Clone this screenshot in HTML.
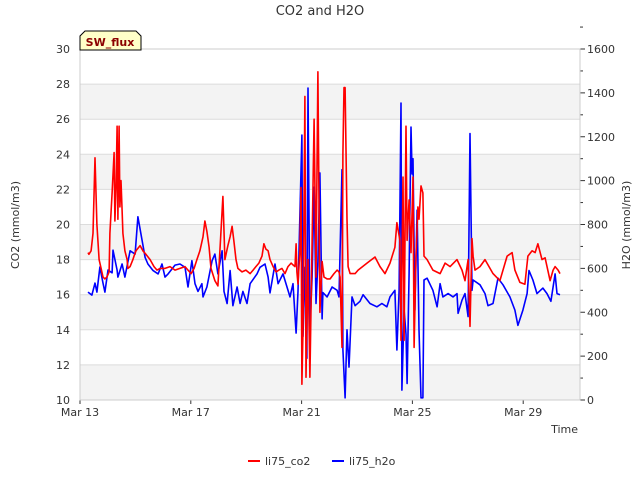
<!DOCTYPE html>
<html><head><meta charset="utf-8"><style>
body{margin:0;background:#fff;font-family:"Liberation Sans","DejaVu Sans",sans-serif}
svg text{font-family:"DejaVu Sans","Liberation Sans",sans-serif}
</style></head><body>
<svg id="chart" width="640" height="480">
<text x="320" y="15" font-size="13" text-anchor="middle" fill="#333">CO2 and H2O</text>
<text transform="translate(19,225) rotate(-90)" font-size="11" text-anchor="middle" fill="#333">CO2 (mmol/m3)</text>
<text transform="translate(630,225) rotate(-90)" font-size="11" text-anchor="middle" fill="#333">H2O (mmol/m3)</text>
<text x="578" y="433" font-size="11" text-anchor="end" fill="#333">Time</text>
<g id="bands"></g><g id="grid"></g><g id="series"></g><g id="axes"></g>
<g>
<path d="M80,50 L80,36 L85,31 L136,31 L141,36 L141,50 Z" fill="#ffffc8" stroke="#000" stroke-width="1"/>
<text x="110" y="46" font-size="11" font-weight="bold" fill="#8b0000" text-anchor="middle">SW_flux</text>
</g>
<g>
<line x1="248" y1="461" x2="260" y2="461" stroke="#f00" stroke-width="2"/>
<text x="265" y="465" font-size="11" fill="#333">li75_co2</text>
<line x1="332" y1="461" x2="344" y2="461" stroke="#00f" stroke-width="2"/>
<text x="349" y="465" font-size="11" fill="#333">li75_h2o</text>
</g>
</svg>
<script>
const xTickLabels=["Mar 13","Mar 17","Mar 21","Mar 25","Mar 29"];
const xTickDays=[0,4,8,12,16];
const leftTicks=[10,12,14,16,18,20,22,24,26,28,30];
const rightTicks=[0,200,400,600,800,1000,1200,1400,1600];
const co2Days=[.29,.32,.40,.47,.54,.61,.69,.76,.83,.90,.97,1.05,1.08,1.16,1.23,1.26,1.30,1.34,1.37,1.41,1.44,1.48,1.52,1.55,1.62,1.70,1.73,1.81,1.91,1.95,2.02,2.17,2.27,2.38,2.53,2.67,2.78,2.89,3.07,3.25,3.43,3.61,3.79,3.90,4.01,4.12,4.22,4.33,4.44,4.51,4.58,4.66,4.73,4.87,4.98,5.05,5.16,5.23,5.34,5.42,5.49,5.56,5.63,5.70,5.85,5.99,6.14,6.25,6.35,6.46,6.57,6.64,6.71,6.79,6.86,6.97,7.08,7.18,7.29,7.40,7.51,7.62,7.69,7.76,7.80,7.83,7.87,7.94,7.98,8.01,8.05,8.12,8.16,8.23,8.30,8.38,8.45,8.52,8.59,8.66,8.74,8.81,8.92,9.03,9.17,9.28,9.35,9.39,9.46,9.49,9.53,9.57,9.64,9.68,9.75,9.93,10.04,10.36,10.65,10.83,11.01,11.19,11.37,11.44,11.55,11.59,11.66,11.70,11.77,11.81,11.88,11.95,12.02,12.06,12.13,12.20,12.24,12.31,12.38,12.42,12.53,12.74,13.00,13.18,13.36,13.61,13.79,13.90,14.01,14.08,14.15,14.19,14.26,14.44,14.62,14.91,15.16,15.42,15.60,15.70,15.88,16.06,16.17,16.32,16.43,16.53,16.68,16.79,16.97,17.08,17.15,17.26,17.33];
const co2Values=[18.4,18.3,18.5,19.5,23.8,20,18,17.5,17,16.9,17,17.3,19.5,21.8,24.1,20.2,22,25.6,20.3,25.6,21,22.5,20.8,19.5,18.5,18,17.5,17.6,18,18.2,18.5,18.8,18.5,18.3,18.0,17.6,17.4,17.5,17.5,17.6,17.4,17.5,17.6,17.4,17.2,17.5,18.0,18.5,19.3,20.2,19.6,18.7,17.5,16.8,16.5,18.5,21.6,18,18.8,19.3,19.9,19.0,18,17.5,17.3,17.4,17.2,17.4,17.6,17.8,18.2,18.9,18.6,18.5,18,17.6,17.3,17.4,17.5,17.2,17.6,17.8,17.7,17.6,18.9,17.3,16.6,18.5,22.1,10.9,14,27.3,11.3,18,11.3,19,26,17,28.7,15,17.9,17,16.9,16.9,17.2,17.4,17.3,17.0,13,24,27.8,27.8,20.3,17.6,17.2,17.2,17.4,17.8,18.15,17.6,17.2,17.8,18.7,20.1,19.1,13.4,22.7,13.4,25.6,19.1,21.4,18.4,22.7,13,18.2,21,20.3,22.2,21.8,18.2,18,17.4,17.2,17.8,17.6,18,17.4,16.8,18,14.2,19.2,18.2,17.4,17.6,18.0,17.2,16.8,18.2,18.4,17.4,16.7,16.6,18.2,18.5,18.4,18.9,18,18.1,16.8,17.4,17.6,17.4,17.2];
const h2oDays=[.29,.43,.54,.61,.72,.83,.90,1.01,1.16,1.19,1.34,1.37,1.52,1.62,1.73,1.81,1.99,2.09,2.24,2.35,2.45,2.64,2.82,2.96,3.07,3.18,3.43,3.61,3.79,3.90,4.04,4.15,4.26,4.40,4.44,4.58,4.77,4.87,4.98,5.13,5.20,5.31,5.42,5.52,5.67,5.78,5.88,6.03,6.14,6.39,6.50,6.68,6.79,6.86,7.04,7.15,7.33,7.58,7.69,7.80,7.87,8.01,8.05,8.12,8.19,8.23,8.30,8.38,8.45,8.52,8.59,8.66,8.74,8.77,8.92,9.10,9.28,9.35,9.46,9.49,9.57,9.64,9.71,9.82,9.93,10.11,10.22,10.47,10.72,10.90,11.08,11.19,11.37,11.44,11.52,11.59,11.62,11.70,11.77,11.81,11.88,11.95,11.99,12.02,12.09,12.17,12.24,12.31,12.38,12.42,12.53,12.74,12.89,13.00,13.10,13.29,13.47,13.61,13.65,13.79,13.90,14.01,14.08,14.15,14.19,14.44,14.62,14.73,14.91,15.09,15.27,15.52,15.70,15.81,15.99,16.14,16.21,16.35,16.50,16.71,16.86,17.00,17.15,17.22,17.33];
const h2oValues=[492,478,533,492,606,533,492,592,580,683,592,560,620,560,630,680,665,835,730,650,620,590,575,620,560,575,615,620,605,515,635,530,495,530,470,515,635,665,575,680,495,440,590,430,515,440,495,440,530,575,605,620,560,488,620,530,575,470,530,305,495,1208,290,605,190,1422,320,560,970,440,630,1035,370,490,470,515,500,470,1050,230,10,320,150,470,430,450,480,440,425,440,425,470,500,228,500,1354,45,410,300,75,580,1244,1030,1100,410,865,320,10,10,547,555,500,425,530,470,485,470,485,395,455,485,380,1215,500,547,525,485,430,440,555,525,470,410,340,410,485,590,547,485,510,485,450,575,485,480];

const NS="http://www.w3.org/2000/svg";
const L=80,R=580,T=49,B=400;
const x=d=>L+d*27.7;
const yL=v=>B-(v-10)/20*(B-T);
const yR=v=>B-v/1600*(B-T);
function mk(tag,attrs,parent){const e=document.createElementNS(NS,tag);for(const k in attrs)e.setAttribute(k,attrs[k]);parent.appendChild(e);return e;}
const bands=document.getElementById('bands'),grid=document.getElementById('grid'),axes=document.getElementById('axes'),series=document.getElementById('series');
mk('rect',{x:L,y:T,width:R-L,height:B-T,fill:'#fff'},bands);
for(let i=0;i<leftTicks.length-1;i+=2){
  const r=mk('rect',{x:L,y:yL(leftTicks[i+1]),width:R-L,height:yL(leftTicks[i])-yL(leftTicks[i+1]),fill:'#f3f3f3'},bands);
  
  
}
leftTicks.forEach(v=>{
  const g=mk('line',{x1:L,x2:R,y1:yL(v),y2:yL(v),stroke:'#dcdcdc','stroke-width':1},grid);
  
  
  const t=mk('text',{x:L-10,y:yL(v)+4,'font-size':11,'text-anchor':'end',fill:'#333'},axes);
  t.textContent=v;
  
  
});
rightTicks.forEach(v=>{
  mk('line',{x1:R,x2:R+5,y1:yR(v),y2:yR(v),stroke:'#333'},axes);
  mk('line',{x1:R,x2:R+3,y1:yR(v+100),y2:yR(v+100),stroke:'#333'},axes);
  const t=mk('text',{x:R+7,y:yR(v)+4,'font-size':11,fill:'#333'},axes);
  t.textContent=v;
  
  
});
xTickDays.forEach((d,i)=>{
  mk('line',{x1:x(d),x2:x(d),y1:B,y2:B+4,stroke:'#333'},axes);
  const t=mk('text',{x:x(d),y:B+16,'font-size':11,'text-anchor':'middle',fill:'#333'},axes);
  t.textContent=xTickLabels[i];
  
  
});
const frame=mk('rect',{x:L,y:T,width:R-L,height:B-T,fill:'none',stroke:'#ccc'},axes);


const ph=mk('polyline',{points:h2oDays.map((d,i)=>x(d).toFixed(1)+','+yR(h2oValues[i]).toFixed(1)).join(' '),fill:'none',stroke:'#0000ff','stroke-width':1.6,'stroke-linejoin':'round'},series);


const pc=mk('polyline',{points:co2Days.map((d,i)=>x(d).toFixed(1)+','+yL(co2Values[i]).toFixed(1)).join(' '),fill:'none',stroke:'#ff0000','stroke-width':1.6,'stroke-linejoin':'round'},series);


</script>
</body></html>
